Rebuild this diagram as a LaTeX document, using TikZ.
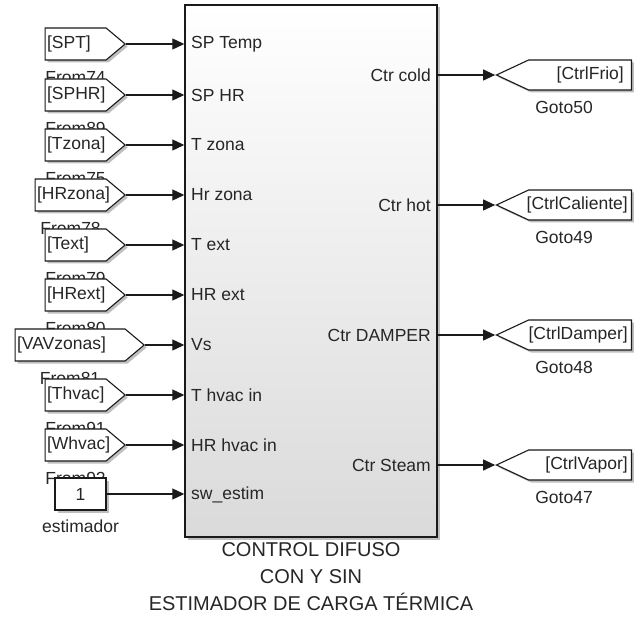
\documentclass[tikz,border=0pt]{standalone}
\usepackage{fontspec}
\setmainfont{Liberation Sans}
\usetikzlibrary{arrows.meta, positioning, shapes.symbols, shadows}
\definecolor{slkline}{HTML}{1A1A1A}
\definecolor{slktext}{HTML}{262626}
\definecolor{slkgray}{HTML}{DADADA}

\tikzset{
  blkshadow/.style={drop shadow={shadow xshift=2.5pt, shadow yshift=-2.5pt, opacity=0.25, fill=black}},
  fromblk/.style={signal, signal to=east, signal pointer angle=80, draw=slkline, line width=1.1pt,
    fill=white, minimum height=32pt, inner xsep=2pt, inner ysep=0pt, text width=#1, align=left,
    font=\fontsize{17.5}{20}\selectfont, text=slktext, blkshadow},
  fromblk/.default=57pt,
  fromlbl/.style={font=\fontsize{17.5}{20}\selectfont, text=slktext, inner sep=0pt, yshift=-11pt},
  gotolbl/.style={font=\fontsize{17.5}{20}\selectfont, text=slktext, inner sep=0pt, yshift=-11pt, xshift=-16pt},
  gotoblk/.style={signal, signal to=west, signal pointer angle=50, draw=slkline, line width=1.1pt,
    fill=white, minimum height=30pt, minimum width=135pt, inner sep=0pt, blkshadow},
  gototxt/.style={font=\fontsize{17.5}{20}\selectfont, text=slktext, inner sep=0pt, anchor=east},
  constblk/.style={rectangle, draw=slkline, line width=1.1pt, fill=white, minimum width=51pt,
    minimum height=32pt, font=\fontsize{17.5}{20}\selectfont, text=slktext, blkshadow},
  portin/.style={font=\fontsize{17.5}{20}\selectfont, text=slktext, inner sep=0pt, anchor=west},
  portout/.style={font=\fontsize{17.5}{20}\selectfont, text=slktext, inner sep=0pt, anchor=east},
  sig/.style={-{Triangle[length=12pt,width=11pt]}, line width=1.1pt, slkline},
}

\begin{document}
\begin{tikzpicture}[x=1pt,y=-1pt]
  \useasboundingbox (0,0) rectangle (639,617);

  \node[rectangle, draw=slkline, line width=1.4pt, top color=white, bottom color=slkgray,
    minimum width=252pt, minimum height=532pt, inner sep=0pt, blkshadow] (ctrl) at (311,271) {};

  \node[portin] (p1) at (191,44) {SP Temp};
  \node[portin] (p2) at (191,95) {SP HR};
  \node[portin] (p3) at (191,145) {T zona};
  \node[portin] (p4) at (191,195) {Hr zona};
  \node[portin] (p5) at (191,245) {T ext};
  \node[portin] (p6) at (191,295) {HR ext};
  \node[portin] (p7) at (191,345) {Vs};
  \node[portin] (p8) at (191,395) {T hvac in};
  \node[portin] (p9) at (191,445) {HR hvac in};
  \node[portin] (p10) at (191,495) {sw\_estim};

  \node[portout] (q1) at (431,75) {Ctr cold};
  \node[portout] (q2) at (431,205) {Ctr hot};
  \node[portout] (q3) at (431,335) {Ctr DAMPER};
  \node[portout] (q4) at (431,465) {Ctr Steam};

  \node[below=5pt of ctrl, align=center, font=\fontsize{20}{27}\selectfont, text=slktext, inner sep=0pt] (cap)
    {CONTROL DIFUSO\\CON Y SIN\\ESTIMADOR DE CARGA TÉRMICA};

  \node[fromblk, anchor=east, label={[fromlbl]below:From74}] (f1) at (126,44) {[SPT]};
  \node[fromblk, anchor=east, label={[fromlbl]below:From89}] (f2) at (126,95) {[SPHR]};
  \node[fromblk, anchor=east, label={[fromlbl]below:From75}] (f3) at (126,145) {[Tzona]};
  \node[fromblk=67pt, anchor=east, label={[fromlbl]below:From78}] (f4) at (126,195) {[HRzona]};
  \node[fromblk, anchor=east, label={[fromlbl]below:From79}] (f5) at (126,245) {[Text]};
  \node[fromblk, anchor=east, label={[fromlbl]below:From80}] (f6) at (126,295) {[HRext]};
  \node[fromblk=106pt, anchor=east, label={[fromlbl]below:From81}] (f7) at (145,345) {[VAVzonas]};
  \node[fromblk, anchor=east, label={[fromlbl]below:From91}] (f8) at (126,395) {[Thvac]};
  \node[fromblk, anchor=east, label={[fromlbl]below:From92}] (f9) at (126,445) {[Whvac]};
  \node[constblk, label={[fromlbl, yshift=2pt]below:estimador}] (c1) at (80.5,494) {1};

  \draw[sig] (f1.east) -- (f1.east -| ctrl.west);
  \draw[sig] (f2.east) -- (f2.east -| ctrl.west);
  \draw[sig] (f3.east) -- (f3.east -| ctrl.west);
  \draw[sig] (f4.east) -- (f4.east -| ctrl.west);
  \draw[sig] (f5.east) -- (f5.east -| ctrl.west);
  \draw[sig] (f6.east) -- (f6.east -| ctrl.west);
  \draw[sig] (f7.east) -- (f7.east -| ctrl.west);
  \draw[sig] (f8.east) -- (f8.east -| ctrl.west);
  \draw[sig] (f9.east) -- (f9.east -| ctrl.west);
  \draw[sig] (c1.east) -- (c1.east -| ctrl.west);

  \node[gotoblk, anchor=east, label={[gotolbl]below:Goto50}] (g1) at (632,75) {};
  \node[gotoblk, anchor=east, label={[gotolbl]below:Goto49}] (g2) at (632,205) {};
  \node[gotoblk, anchor=east, label={[gotolbl]below:Goto48}] (g3) at (632,335) {};
  \node[gotoblk, anchor=east, label={[gotolbl]below:Goto47}] (g4) at (632,465) {};
  \node[gototxt] (t1) at (624,75) {[CtrlFrio]};
  \node[gototxt] (t2) at (628,205) {[CtrlCaliente]};
  \node[gototxt] (t3) at (628,335) {[CtrlDamper]};
  \node[gototxt] (t4) at (628,465) {[CtrlVapor]};

  \draw[sig] (ctrl.east |- g1.west) -- (g1.west);
  \draw[sig] (ctrl.east |- g2.west) -- (g2.west);
  \draw[sig] (ctrl.east |- g3.west) -- (g3.west);
  \draw[sig] (ctrl.east |- g4.west) -- (g4.west);
\end{tikzpicture}
\end{document}
